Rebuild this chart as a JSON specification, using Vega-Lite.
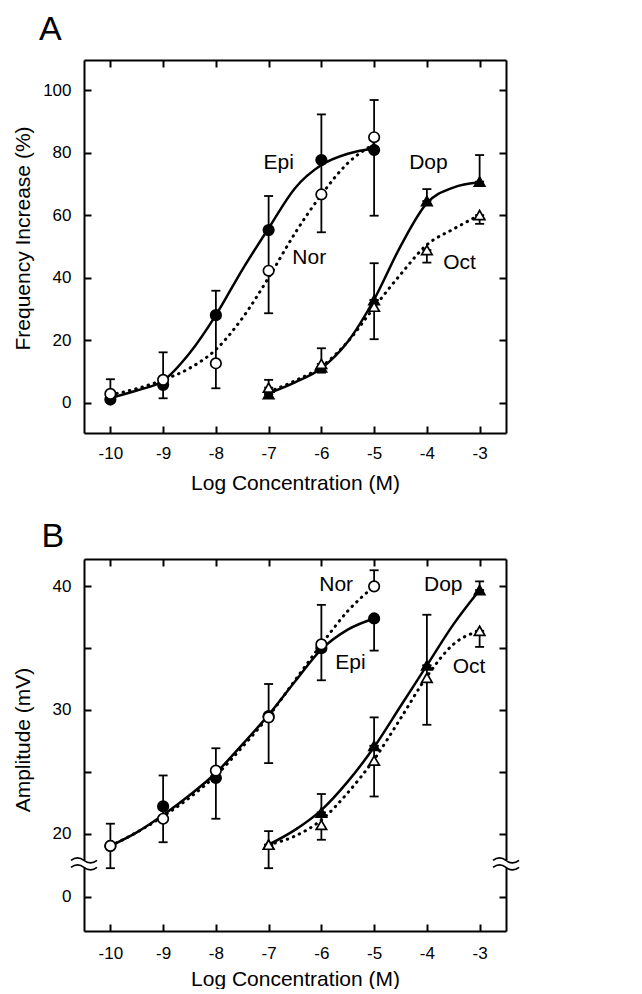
{
  "$schema": "https://vega.github.io/schema/vega-lite/v6.json",
  "padding": {"left": 12, "top": 13, "right": 5, "bottom": 0},
  "config": {
    "font": "Liberation Sans",
    "view": {"stroke": null},
    "axis": {"domainColor": "black", "domainWidth": 2, "tickColor": "black", "tickWidth": 2, "tickSize": -7, "labelColor": "black", "labelFontSize": 17, "labelFont": "Liberation Sans", "titleFont": "Liberation Sans", "titleFontSize": 21, "titleFontWeight": "normal", "titleColor": "black", "grid": false, "labelPadding": 19, "zindex": 0},
    "title": {"font": "Liberation Sans", "fontSize": 34, "fontWeight": "normal", "color": "black"}
  },
  "datasets": {
    "curvesA": [
      {"drug": "Epi", "x": -10, "y": 1.5}, {"drug": "Epi", "x": -9.5, "y": 3.9}, {"drug": "Epi", "x": -9, "y": 7.0}, {"drug": "Epi", "x": -8.5, "y": 15.8}, {"drug": "Epi", "x": -8, "y": 28.0}, {"drug": "Epi", "x": -7.5, "y": 42.5}, {"drug": "Epi", "x": -7, "y": 55.8}, {"drug": "Epi", "x": -6.5, "y": 68.6}, {"drug": "Epi", "x": -6, "y": 76.0}, {"drug": "Epi", "x": -5.5, "y": 79.6}, {"drug": "Epi", "x": -5, "y": 81.3},
      {"drug": "Nor", "x": -10, "y": 2.5}, {"drug": "Nor", "x": -9.5, "y": 4.5}, {"drug": "Nor", "x": -9, "y": 7.3}, {"drug": "Nor", "x": -8.5, "y": 11.0}, {"drug": "Nor", "x": -8, "y": 17.0}, {"drug": "Nor", "x": -7.5, "y": 27.0}, {"drug": "Nor", "x": -7, "y": 40.0}, {"drug": "Nor", "x": -6.5, "y": 54.2}, {"drug": "Nor", "x": -6, "y": 66.5}, {"drug": "Nor", "x": -5.5, "y": 76.6}, {"drug": "Nor", "x": -5, "y": 82.7},
      {"drug": "Dop", "x": -7, "y": 3.0}, {"drug": "Dop", "x": -6.5, "y": 6.5}, {"drug": "Dop", "x": -6, "y": 11.0}, {"drug": "Dop", "x": -5.5, "y": 19.5}, {"drug": "Dop", "x": -5, "y": 33.0}, {"drug": "Dop", "x": -4.5, "y": 50.0}, {"drug": "Dop", "x": -4, "y": 63.8}, {"drug": "Dop", "x": -3.5, "y": 68.8}, {"drug": "Dop", "x": -3, "y": 70.5},
      {"drug": "Oct", "x": -7, "y": 3.5}, {"drug": "Oct", "x": -6.5, "y": 7.0}, {"drug": "Oct", "x": -6, "y": 11.5}, {"drug": "Oct", "x": -5.5, "y": 19.5}, {"drug": "Oct", "x": -5, "y": 30.5}, {"drug": "Oct", "x": -4.5, "y": 41.0}, {"drug": "Oct", "x": -4, "y": 50.5}, {"drug": "Oct", "x": -3.5, "y": 55.5}, {"drug": "Oct", "x": -3, "y": 60.0}
    ],
    "ptsA": [
      {"drug": "Epi", "x": -10, "y": 1.0, "lo": 1.0, "hi": 1.0},
      {"drug": "Epi", "x": -9, "y": 5.7, "lo": 1.4, "hi": 5.7},
      {"drug": "Epi", "x": -8, "y": 28.0, "lo": 28.0, "hi": 35.8},
      {"drug": "Epi", "x": -7, "y": 55.2, "lo": 55.2, "hi": 66.1},
      {"drug": "Epi", "x": -6, "y": 77.6, "lo": 77.6, "hi": 92.2},
      {"drug": "Epi", "x": -5, "y": 80.8, "lo": 59.8, "hi": 80.8},
      {"drug": "Dop", "x": -7, "y": 2.7, "lo": 2.7, "hi": 2.7},
      {"drug": "Dop", "x": -6, "y": 11.3, "lo": 9.6, "hi": 11.3},
      {"drug": "Dop", "x": -5, "y": 32.8, "lo": 32.8, "hi": 44.6},
      {"drug": "Dop", "x": -4, "y": 64.5, "lo": 64.5, "hi": 68.3},
      {"drug": "Dop", "x": -3, "y": 70.7, "lo": 70.7, "hi": 79.2},
      {"drug": "Nor", "x": -10, "y": 2.8, "lo": 2.8, "hi": 7.5},
      {"drug": "Nor", "x": -9, "y": 7.3, "lo": 7.3, "hi": 16.1},
      {"drug": "Nor", "x": -8, "y": 12.6, "lo": 4.6, "hi": 28.0},
      {"drug": "Nor", "x": -7, "y": 42.2, "lo": 28.6, "hi": 55.2},
      {"drug": "Nor", "x": -6, "y": 66.6, "lo": 54.5, "hi": 77.6},
      {"drug": "Nor", "x": -5, "y": 84.9, "lo": 80.8, "hi": 96.8},
      {"drug": "Oct", "x": -7, "y": 4.8, "lo": 4.8, "hi": 7.3},
      {"drug": "Oct", "x": -6, "y": 12.4, "lo": 12.4, "hi": 17.4},
      {"drug": "Oct", "x": -5, "y": 30.7, "lo": 20.3, "hi": 32.8},
      {"drug": "Oct", "x": -4, "y": 48.8, "lo": 44.8, "hi": 48.8},
      {"drug": "Oct", "x": -3, "y": 60.0, "lo": 57.2, "hi": 60.0}
    ],
    "labelsA": [
      {"label": "Epi", "x": -6.81, "y": 76.8},
      {"label": "Nor", "x": -6.23, "y": 46.2},
      {"label": "Dop", "x": -3.97, "y": 76.8},
      {"label": "Oct", "x": -3.38, "y": 44.6}
    ],
    "curvesB": [
      {"drug": "Epi", "x": -10, "y": 19.0}, {"drug": "Epi", "x": -9.5, "y": 20.1}, {"drug": "Epi", "x": -9, "y": 21.5}, {"drug": "Epi", "x": -8.5, "y": 23.1}, {"drug": "Epi", "x": -8, "y": 24.9}, {"drug": "Epi", "x": -7.5, "y": 27.2}, {"drug": "Epi", "x": -7, "y": 29.6}, {"drug": "Epi", "x": -6.5, "y": 32.3}, {"drug": "Epi", "x": -6, "y": 34.9}, {"drug": "Epi", "x": -5.5, "y": 36.5}, {"drug": "Epi", "x": -5, "y": 37.4},
      {"drug": "Nor", "x": -10, "y": 19.0}, {"drug": "Nor", "x": -9.5, "y": 20.1}, {"drug": "Nor", "x": -9, "y": 21.4}, {"drug": "Nor", "x": -8.5, "y": 22.9}, {"drug": "Nor", "x": -8, "y": 24.7}, {"drug": "Nor", "x": -7.5, "y": 27.0}, {"drug": "Nor", "x": -7, "y": 29.5}, {"drug": "Nor", "x": -6.5, "y": 32.4}, {"drug": "Nor", "x": -6, "y": 35.3}, {"drug": "Nor", "x": -5.5, "y": 38.0}, {"drug": "Nor", "x": -5, "y": 40.0},
      {"drug": "Dop", "x": -7, "y": 19.1}, {"drug": "Dop", "x": -6.5, "y": 20.3}, {"drug": "Dop", "x": -6, "y": 21.9}, {"drug": "Dop", "x": -5.5, "y": 24.2}, {"drug": "Dop", "x": -5, "y": 27.0}, {"drug": "Dop", "x": -4.5, "y": 30.3}, {"drug": "Dop", "x": -4, "y": 33.6}, {"drug": "Dop", "x": -3.5, "y": 36.9}, {"drug": "Dop", "x": -3, "y": 39.7},
      {"drug": "Oct", "x": -7, "y": 19.1}, {"drug": "Oct", "x": -6.5, "y": 19.8}, {"drug": "Oct", "x": -6, "y": 21.1}, {"drug": "Oct", "x": -5.5, "y": 23.3}, {"drug": "Oct", "x": -5, "y": 26.0}, {"drug": "Oct", "x": -4.5, "y": 29.3}, {"drug": "Oct", "x": -4, "y": 32.7}, {"drug": "Oct", "x": -3.5, "y": 35.3}, {"drug": "Oct", "x": -3, "y": 36.4}
    ],
    "ptsB": [
      {"drug": "Epi", "x": -10, "y": 19.0, "lo": 19.0, "hi": 19.0},
      {"drug": "Epi", "x": -9, "y": 22.2, "lo": 22.2, "hi": 24.7},
      {"drug": "Epi", "x": -8, "y": 24.5, "lo": 21.2, "hi": 24.5},
      {"drug": "Epi", "x": -7, "y": 29.5, "lo": 29.5, "hi": 29.5},
      {"drug": "Epi", "x": -6, "y": 35.0, "lo": 35.0, "hi": 35.0},
      {"drug": "Epi", "x": -5, "y": 37.4, "lo": 34.8, "hi": 37.4},
      {"drug": "Dop", "x": -7, "y": 19.1, "lo": 19.1, "hi": 19.1},
      {"drug": "Dop", "x": -6, "y": 21.7, "lo": 21.7, "hi": 23.2},
      {"drug": "Dop", "x": -5, "y": 27.1, "lo": 27.1, "hi": 29.4},
      {"drug": "Dop", "x": -4, "y": 33.6, "lo": 33.6, "hi": 37.7},
      {"drug": "Dop", "x": -3, "y": 39.7, "lo": 39.7, "hi": 40.4},
      {"drug": "Nor", "x": -10, "y": 19.0, "lo": 17.2, "hi": 20.8},
      {"drug": "Nor", "x": -9, "y": 21.2, "lo": 19.3, "hi": 22.2},
      {"drug": "Nor", "x": -8, "y": 25.1, "lo": 24.5, "hi": 26.9},
      {"drug": "Nor", "x": -7, "y": 29.4, "lo": 25.7, "hi": 32.1},
      {"drug": "Nor", "x": -6, "y": 35.3, "lo": 32.4, "hi": 38.5},
      {"drug": "Nor", "x": -5, "y": 40.0, "lo": 40.0, "hi": 41.3},
      {"drug": "Oct", "x": -7, "y": 19.1, "lo": 17.2, "hi": 20.2},
      {"drug": "Oct", "x": -6, "y": 20.7, "lo": 19.5, "hi": 21.7},
      {"drug": "Oct", "x": -5, "y": 25.9, "lo": 23.0, "hi": 27.1},
      {"drug": "Oct", "x": -4, "y": 32.6, "lo": 28.8, "hi": 33.6},
      {"drug": "Oct", "x": -3, "y": 36.4, "lo": 35.1, "hi": 36.4}
    ],
    "labelsB": [
      {"label": "Nor", "x": -5.72, "y": 40.1},
      {"label": "Epi", "x": -5.45, "y": 33.8},
      {"label": "Dop", "x": -3.69, "y": 40.1},
      {"label": "Oct", "x": -3.2, "y": 33.5}
    ],
    "breaksB": [
      {"x": -10.5, "y": 17.55},
      {"x": -2.5, "y": 17.55}
    ]
  },
  "vconcat": [
    {
      "width": 422,
      "height": 373,
      "title": {"text": "A", "anchor": "start", "frame": "group", "dx": -45, "offset": 12},
      "resolve": {"axis": {"x": "independent", "y": "independent"}},
      "layer": [
        {
          "data": {"name": "curvesA"},
          "transform": [{"filter": "datum.drug === 'Epi' || datum.drug === 'Dop'"}],
          "mark": {"type": "line", "interpolate": "monotone", "color": "black", "strokeWidth": 2.5},
          "encoding": {
            "x": {"field": "x", "type": "quantitative", "scale": {"domain": [-10.5, -2.5], "nice": false, "zero": false},
                  "axis": {"orient": "bottom", "values": [-10, -9, -8, -7, -6, -5, -4, -3], "labelExpr": "'' + datum.value", "title": "Log Concentration (M)", "titlePadding": 11}},
            "y": {"field": "y", "type": "quantitative", "scale": {"domain": [-9.7, 109.6], "nice": false, "zero": false},
                  "axis": {"orient": "left", "values": [0, 20, 40, 60, 80, 100], "title": "Frequency Increase (%)", "labelPadding": 20, "titleX": -71.5, "titleY": 178, "titleBaseline": "top"}},
            "detail": {"field": "drug"}
          }
        },
        {
          "data": {"name": "curvesA"},
          "transform": [{"filter": "datum.drug === 'Nor' || datum.drug === 'Oct'"}],
          "mark": {"type": "line", "interpolate": "monotone", "color": "black", "strokeWidth": 3, "strokeDash": [0.5, 6], "strokeCap": "round"},
          "encoding": {
            "x": {"field": "x", "type": "quantitative", "scale": {"domain": [-10.5, -2.5], "nice": false, "zero": false}, "axis": null},
            "y": {"field": "y", "type": "quantitative", "scale": {"domain": [-9.7, 109.6], "nice": false, "zero": false}, "axis": null},
            "detail": {"field": "drug"}
          }
        },
        {
          "data": {"name": "ptsA"},
          "mark": {"type": "rule", "color": "black", "strokeWidth": 1.8},
          "encoding": {
            "x": {"field": "x", "type": "quantitative", "scale": {"domain": [-10.5, -2.5], "nice": false, "zero": false}, "axis": null},
            "y": {"field": "lo", "type": "quantitative", "scale": {"domain": [-9.7, 109.6], "nice": false, "zero": false}, "axis": null},
            "y2": {"field": "hi"}
          }
        },
        {
          "data": {"name": "ptsA"},
          "mark": {"type": "tick", "orient": "horizontal", "color": "black", "size": 9, "thickness": 1.8, "opacity": 1},
          "encoding": {
            "x": {"field": "x", "type": "quantitative", "scale": {"domain": [-10.5, -2.5], "nice": false, "zero": false}, "axis": null},
            "y": {"field": "lo", "type": "quantitative", "scale": {"domain": [-9.7, 109.6], "nice": false, "zero": false}, "axis": null}
          }
        },
        {
          "data": {"name": "ptsA"},
          "mark": {"type": "tick", "orient": "horizontal", "color": "black", "size": 9, "thickness": 1.8, "opacity": 1},
          "encoding": {
            "x": {"field": "x", "type": "quantitative", "scale": {"domain": [-10.5, -2.5], "nice": false, "zero": false}, "axis": null},
            "y": {"field": "hi", "type": "quantitative", "scale": {"domain": [-9.7, 109.6], "nice": false, "zero": false}, "axis": null}
          }
        },
        {
          "data": {"name": "ptsA"},
          "mark": {"type": "point", "filled": true, "stroke": "black", "strokeWidth": 1.7, "opacity": 1},
          "encoding": {
            "x": {"field": "x", "type": "quantitative", "scale": {"domain": [-10.5, -2.5], "nice": false, "zero": false}, "axis": null},
            "y": {"field": "y", "type": "quantitative", "scale": {"domain": [-9.7, 109.6], "nice": false, "zero": false}, "axis": null},
            "fill": {"field": "drug", "type": "nominal", "scale": {"domain": ["Epi", "Nor", "Dop", "Oct"], "range": ["black", "white", "black", "white"]}, "legend": null},
            "shape": {"field": "drug", "type": "nominal", "scale": {"domain": ["Epi", "Nor", "Dop", "Oct"], "range": ["circle", "circle", "triangle-up", "triangle-up"]}, "legend": null},
            "size": {"field": "drug", "type": "nominal", "scale": {"domain": ["Epi", "Nor", "Dop", "Oct"], "range": [110, 110, 125, 125]}, "legend": null}
          }
        },
        {
          "data": {"name": "labelsA"},
          "mark": {"type": "text", "fontSize": 21, "font": "Liberation Sans", "color": "black", "align": "center", "baseline": "middle"},
          "encoding": {
            "x": {"field": "x", "type": "quantitative", "scale": {"domain": [-10.5, -2.5], "nice": false, "zero": false},
                  "axis": {"orient": "top", "values": [-10, -9, -8, -7, -6, -5, -4, -3], "labels": false, "title": null}},
            "y": {"field": "y", "type": "quantitative", "scale": {"domain": [-9.7, 109.6], "nice": false, "zero": false},
                  "axis": {"orient": "right", "values": [0, 20, 40, 60, 80, 100], "labels": false, "title": null}},
            "text": {"field": "label"}
          }
        }
      ]
    },
    {
      "width": 422,
      "height": 372,
      "title": {"text": "B", "anchor": "start", "frame": "group", "dx": -42.5, "offset": 4},
      "resolve": {"axis": {"x": "independent", "y": "independent"}},
      "layer": [
        {
          "data": {"name": "curvesB"},
          "transform": [{"filter": "datum.drug === 'Epi' || datum.drug === 'Dop'"}],
          "mark": {"type": "line", "interpolate": "monotone", "color": "black", "strokeWidth": 2.5},
          "encoding": {
            "x": {"field": "x", "type": "quantitative", "scale": {"domain": [-10.5, -2.5], "nice": false, "zero": false},
                  "axis": {"orient": "bottom", "values": [-10, -9, -8, -7, -6, -5, -4, -3], "labelExpr": "'' + datum.value", "title": "Log Concentration (M)", "titlePadding": 7, "labelPadding": 21}},
            "y": {"field": "y", "type": "quantitative", "scale": {"domain": [12.12, 42.21], "nice": false, "zero": false},
                  "axis": {"orient": "left", "values": [14.9, 20, 25, 30, 35, 40], "labelExpr": "datum.value < 16 ? '0' : (datum.value % 10 === 0 ? '' + datum.value : '')", "title": "Amplitude (mV)", "labelPadding": 20, "titleX": -71.5, "titleY": 180.5, "titleBaseline": "top"}},
            "detail": {"field": "drug"}
          }
        },
        {
          "data": {"name": "curvesB"},
          "transform": [{"filter": "datum.drug === 'Nor' || datum.drug === 'Oct'"}],
          "mark": {"type": "line", "interpolate": "monotone", "color": "black", "strokeWidth": 3, "strokeDash": [0.5, 6], "strokeCap": "round"},
          "encoding": {
            "x": {"field": "x", "type": "quantitative", "scale": {"domain": [-10.5, -2.5], "nice": false, "zero": false}, "axis": null},
            "y": {"field": "y", "type": "quantitative", "scale": {"domain": [12.12, 42.21], "nice": false, "zero": false}, "axis": null},
            "detail": {"field": "drug"}
          }
        },
        {
          "data": {"name": "ptsB"},
          "mark": {"type": "rule", "color": "black", "strokeWidth": 1.8},
          "encoding": {
            "x": {"field": "x", "type": "quantitative", "scale": {"domain": [-10.5, -2.5], "nice": false, "zero": false}, "axis": null},
            "y": {"field": "lo", "type": "quantitative", "scale": {"domain": [12.12, 42.21], "nice": false, "zero": false}, "axis": null},
            "y2": {"field": "hi"}
          }
        },
        {
          "data": {"name": "ptsB"},
          "mark": {"type": "tick", "orient": "horizontal", "color": "black", "size": 9, "thickness": 1.8, "opacity": 1},
          "encoding": {
            "x": {"field": "x", "type": "quantitative", "scale": {"domain": [-10.5, -2.5], "nice": false, "zero": false}, "axis": null},
            "y": {"field": "lo", "type": "quantitative", "scale": {"domain": [12.12, 42.21], "nice": false, "zero": false}, "axis": null}
          }
        },
        {
          "data": {"name": "ptsB"},
          "mark": {"type": "tick", "orient": "horizontal", "color": "black", "size": 9, "thickness": 1.8, "opacity": 1},
          "encoding": {
            "x": {"field": "x", "type": "quantitative", "scale": {"domain": [-10.5, -2.5], "nice": false, "zero": false}, "axis": null},
            "y": {"field": "hi", "type": "quantitative", "scale": {"domain": [12.12, 42.21], "nice": false, "zero": false}, "axis": null}
          }
        },
        {
          "data": {"name": "ptsB"},
          "mark": {"type": "point", "filled": true, "stroke": "black", "strokeWidth": 1.7, "opacity": 1},
          "encoding": {
            "x": {"field": "x", "type": "quantitative", "scale": {"domain": [-10.5, -2.5], "nice": false, "zero": false}, "axis": null},
            "y": {"field": "y", "type": "quantitative", "scale": {"domain": [12.12, 42.21], "nice": false, "zero": false}, "axis": null},
            "fill": {"field": "drug", "type": "nominal", "scale": {"domain": ["Epi", "Nor", "Dop", "Oct"], "range": ["black", "white", "black", "white"]}, "legend": null},
            "shape": {"field": "drug", "type": "nominal", "scale": {"domain": ["Epi", "Nor", "Dop", "Oct"], "range": ["circle", "circle", "triangle-up", "triangle-up"]}, "legend": null},
            "size": {"field": "drug", "type": "nominal", "scale": {"domain": ["Epi", "Nor", "Dop", "Oct"], "range": [110, 110, 125, 125]}, "legend": null}
          }
        },
        {
          "data": {"name": "breaksB"},
          "mark": {"type": "point", "shape": "M-0.16,-0.3H0.16V0.3H-0.16Z", "size": 676, "filled": true, "fill": "white", "strokeWidth": 0, "opacity": 1},
          "encoding": {
            "x": {"field": "x", "type": "quantitative", "scale": {"domain": [-10.5, -2.5], "nice": false, "zero": false}, "axis": null},
            "y": {"field": "y", "type": "quantitative", "scale": {"domain": [12.12, 42.21], "nice": false, "zero": false}, "axis": null}
          }
        },
        {
          "data": {"name": "breaksB"},
          "mark": {"type": "point", "shape": "M-1,-0.27C-0.64,-0.55,-0.36,-0.55,0,-0.27C0.36,0.01,0.64,0.01,1,-0.27M-1,0.27C-0.64,-0.01,-0.36,-0.01,0,0.27C0.36,0.55,0.64,0.55,1,0.27", "size": 676, "filled": false, "stroke": "black", "strokeWidth": 1.8, "opacity": 1},
          "encoding": {
            "x": {"field": "x", "type": "quantitative", "scale": {"domain": [-10.5, -2.5], "nice": false, "zero": false}, "axis": null},
            "y": {"field": "y", "type": "quantitative", "scale": {"domain": [12.12, 42.21], "nice": false, "zero": false}, "axis": null}
          }
        },
        {
          "data": {"name": "labelsB"},
          "mark": {"type": "text", "fontSize": 21, "font": "Liberation Sans", "color": "black", "align": "center", "baseline": "middle"},
          "encoding": {
            "x": {"field": "x", "type": "quantitative", "scale": {"domain": [-10.5, -2.5], "nice": false, "zero": false},
                  "axis": {"orient": "top", "values": [-10, -9, -8, -7, -6, -5, -4, -3], "labels": false, "title": null}},
            "y": {"field": "y", "type": "quantitative", "scale": {"domain": [12.12, 42.21], "nice": false, "zero": false},
                  "axis": {"orient": "right", "values": [14.9, 20, 25, 30, 35, 40], "labels": false, "title": null}},
            "text": {"field": "label"}
          }
        }
      ]
    }
  ],
  "spacing": 27
}
